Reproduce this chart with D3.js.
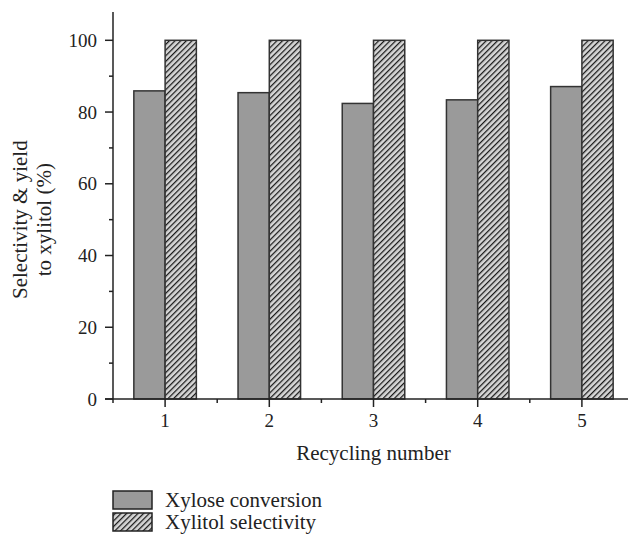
<!DOCTYPE html>
<html>
<head>
<meta charset="utf-8">
<script src="https://cdn.jsdelivr.net/npm/d3@7"></script>
<style>
  body { margin: 0; background: #fff; }
  svg text { font-family: "Liberation Serif", "Times New Roman", serif; fill: #222; }
</style>
</head>
<body>
<svg id="chart" width="628" height="539"></svg>
<script>
// data
const cycles = [1, 2, 3, 4, 5];
const conversion = [85.9, 85.4, 82.4, 83.4, 87.1];
const selectivity = [100, 100, 100, 100, 100];
const yTicks = [0, 20, 40, 60, 80, 100];
const seriesNames = ["Xylose conversion", "Xylitol selectivity"];

const svg = d3.select("#chart");
const tickSize = 19;
const labelSize = 21;

const x = d3.scaleLinear().domain([0.5, 5.5]).range([113, 634]);
const y = d3.scaleLinear().domain([0, 100]).range([399, 40.3]);
const yTop = 12;
const barW = (x(2) - x(1)) * 0.3;

// hatch pattern for selectivity bars
const defs = svg.append("defs");
const pat = defs.append("pattern")
  .attr("id", "hatch")
  .attr("patternUnits", "userSpaceOnUse")
  .attr("width", 4).attr("height", 4)
  .attr("patternTransform", "rotate(45)");
pat.append("rect").attr("width", 4).attr("height", 4).attr("fill", "#d6d6d6");
pat.append("line").attr("x1", 0.6).attr("x2", 0.6).attr("y1", 0).attr("y2", 4)
  .attr("stroke", "#1a1a1a").attr("stroke-width", 1.3);

// bars
const g = svg.append("g");
g.selectAll(".conv")
  .data(conversion)
  .enter().append("rect")
  .attr("class", "conv")
  .attr("x", (d, i) => x(cycles[i]) - barW)
  .attr("y", d => y(d))
  .attr("width", barW)
  .attr("height", d => y(0) - y(d))
  .attr("fill", "#9a9a9a")
  .attr("stroke", "#333").attr("stroke-width", 1.5);

g.selectAll(".sel")
  .data(selectivity)
  .enter().append("rect")
  .attr("class", "sel")
  .attr("x", (d, i) => x(cycles[i]))
  .attr("y", d => y(d))
  .attr("width", barW)
  .attr("height", d => y(0) - y(d))
  .attr("fill", "url(#hatch)")
  .attr("stroke", "#333").attr("stroke-width", 1.5);

// y axis
const yAxis = svg.append("g").attr("transform", "translate(113,0)");
yAxis.append("line").attr("y1", yTop).attr("y2", y(0)).attr("stroke", "#222").attr("stroke-width", 1.5);
yAxis.selectAll(".ymin")
  .data(d3.range(10, 101, 20))
  .enter().append("line")
  .attr("x1", -4).attr("x2", 0)
  .attr("y1", d => y(d)).attr("y2", d => y(d))
  .attr("stroke", "#222").attr("stroke-width", 1.5);
yAxis.selectAll(".ymaj")
  .data(yTicks)
  .enter().append("line")
  .attr("x1", -8).attr("x2", 0)
  .attr("y1", d => y(d)).attr("y2", d => y(d))
  .attr("stroke", "#222").attr("stroke-width", 1.5);
yAxis.selectAll(".ylab")
  .data(yTicks)
  .enter().append("text")
  .attr("x", -16)
  .attr("y", d => y(d))
  .attr("dy", "0.35em")
  .attr("text-anchor", "end")
  .style("font-size", tickSize + "px")
  .text(d => d);

// x axis
const xAxis = svg.append("g").attr("transform", "translate(0,399)");
xAxis.append("line").attr("x1", 105).attr("x2", x(5.5)).attr("stroke", "#222").attr("stroke-width", 1.5);
xAxis.selectAll(".xmin")
  .data(d3.range(0.5, 5.6, 1))
  .enter().append("line")
  .attr("x1", d => x(d)).attr("x2", d => x(d))
  .attr("y1", 0).attr("y2", 4)
  .attr("stroke", "#222").attr("stroke-width", 1.5);
xAxis.selectAll(".xmaj")
  .data(cycles)
  .enter().append("line")
  .attr("x1", d => x(d)).attr("x2", d => x(d))
  .attr("y1", 0).attr("y2", 8)
  .attr("stroke", "#222").attr("stroke-width", 1.5);
xAxis.selectAll(".xlab")
  .data(cycles)
  .enter().append("text")
  .attr("x", d => x(d))
  .attr("y", 28)
  .attr("text-anchor", "middle")
  .style("font-size", tickSize + "px")
  .text(d => d);

// axis titles
svg.append("text")
  .attr("x", 373.5).attr("y", 460)
  .attr("text-anchor", "middle")
  .style("font-size", labelSize + "px")
  .text("Recycling number");

const yt = svg.append("text")
  .attr("transform", "translate(0," + ((y(0) + y(100)) / 2) + ") rotate(-90)")
  .attr("text-anchor", "middle")
  .style("font-size", labelSize + "px");
yt.append("tspan").attr("x", 0).attr("y", 27).text("Selectivity & yield");
yt.append("tspan").attr("x", 0).attr("y", 51).text("to xylitol (%)");

// legend
const legend = svg.append("g");
const fills = ["#9a9a9a", "url(#hatch)"];
seriesNames.forEach((name, i) => {
  const ly = 491 + i * 22;
  legend.append("rect")
    .attr("x", 113).attr("y", ly)
    .attr("width", 39).attr("height", 18)
    .attr("fill", fills[i])
    .attr("stroke", "#222").attr("stroke-width", 1.5);
  legend.append("text")
    .attr("x", 165).attr("y", ly + 16)
    .style("font-size", labelSize + "px")
    .text(name);
});
</script>
</body>
</html>
